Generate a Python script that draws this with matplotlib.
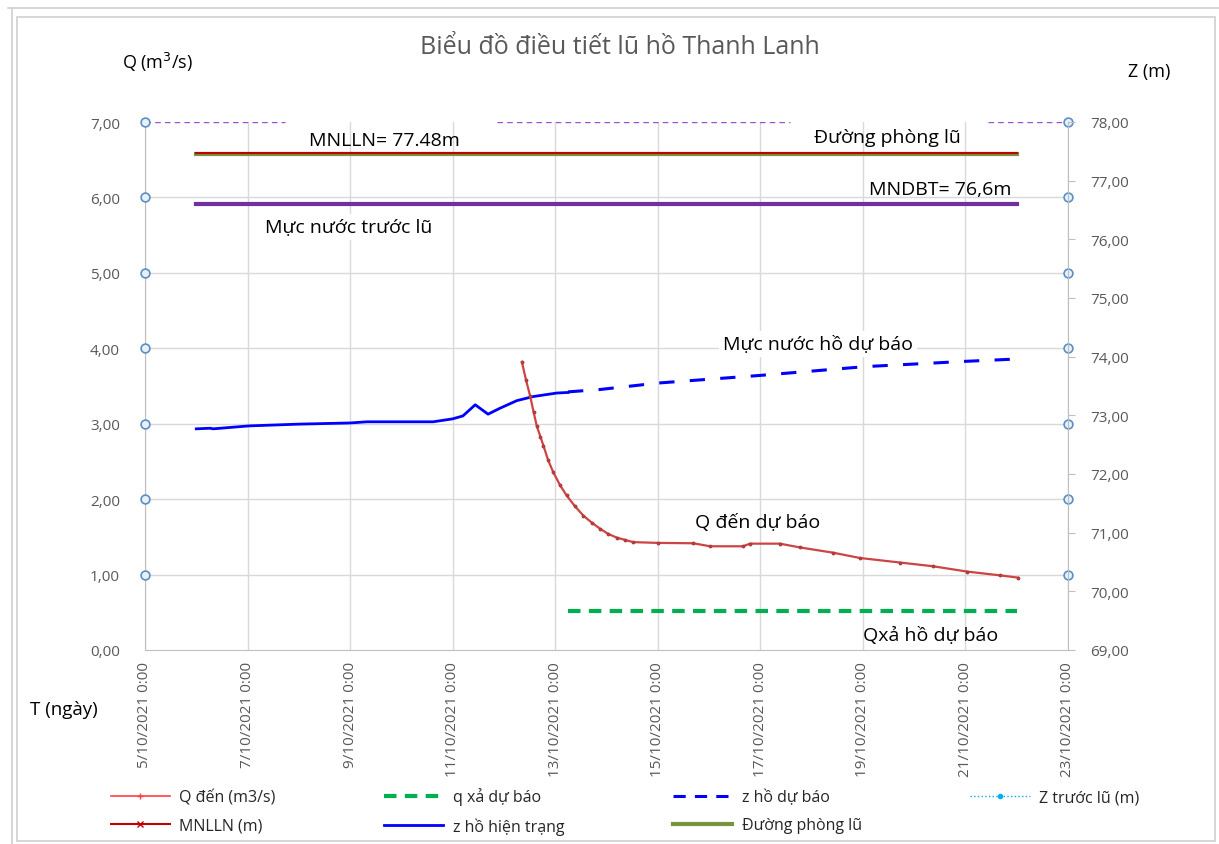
import numpy as np
import pandas as pd
import matplotlib
matplotlib.use("Agg")
from matplotlib import pyplot as plt
import matplotlib.dates as mdates
from matplotlib.lines import Line2D
from matplotlib.patches import Rectangle

plt.rcParams['font.family'] = ['Open Sans', 'DejaVu Sans']

# ---- data (time as days after 5/10/2021 0:00) ----
start = pd.Timestamp("2021-10-05 00:00")
x_start_day = 0
x_end_day = 18

# z hồ hiện trạng (m)
z_now_day = [1.0, 1.27, 1.33, 2.03, 3.0, 4.0, 4.33, 5.0, 5.62, 6.0, 6.2, 6.44,
             6.69, 6.92, 7.25, 7.57, 8.03, 8.25]
z_now = [72.77, 72.78, 72.77, 72.82, 72.85, 72.87, 72.89, 72.89, 72.89, 72.94,
         72.99, 73.18, 73.02, 73.12, 73.25, 73.32, 73.38, 73.39]

# z hồ dự báo (m)
z_fc_day = [8.25, 8.87, 10.0, 11.99, 14.04, 15.99, 17.0]
z_fc = [73.40, 73.44, 73.55, 73.68, 73.83, 73.92, 73.96]

# Q đến (m3/s)
q_in_day = [7.35, 7.43, 7.51, 7.58, 7.64, 7.71, 7.77, 7.86, 7.96, 8.09, 8.22,
            8.38, 8.55, 8.71, 8.87, 9.03, 9.20, 9.36, 9.52, 10.0, 10.69, 11.02,
            11.66, 11.80, 12.38, 12.77, 13.42, 13.94, 14.72, 15.37, 16.03,
            16.67, 17.02]
q_in = [3.82, 3.58, 3.37, 3.15, 2.97, 2.83, 2.71, 2.52, 2.36, 2.19, 2.05,
        1.91, 1.78, 1.69, 1.61, 1.54, 1.49, 1.46, 1.43, 1.42, 1.415, 1.375,
        1.375, 1.41, 1.41, 1.36, 1.29, 1.22, 1.16, 1.11, 1.04, 0.99, 0.96]

# q xả dự báo
q_out_day = [8.25, 17.0]
q_out = [0.52, 0.52]

# levels (m)
level_day = [1.0, 17.0]
mnlln = 77.48
phong_lu = 77.45
mndbt = 76.6

# dashed limit line at the top of the Q axis
top_q = 7.0
top_segments = [(0.0, 2.73), (6.86, 12.58), (16.44, 18.0)]
circle_q = [1, 2, 3, 4, 5, 6, 7]

q_ticks = [0, 1, 2, 3, 4, 5, 6, 7]
z_ticks = [69, 70, 71, 72, 73, 74, 75, 76, 77, 78]


def to_time(days):
    return start + pd.to_timedelta(np.asarray(days, dtype=float), unit="D")


def date_fmt(x, pos=None):
    d = mdates.num2date(x)
    return f"{d.day}/{d.month}/{d.year} {d.hour}:{d.minute:02d}"


gray = "#595959"
grid = "#d9d9d9"

fig = plt.figure(figsize=(12.19, 8.45), dpi=100)
ax = fig.add_axes([145 / 1219, 1 - 651 / 845, (1068 - 145) / 1219, (651 - 123) / 845])
az = ax.twinx()

# frame like a spreadsheet chart object
fig.patches.append(Rectangle((17 / 1219, 3 / 845), 1198 / 1219, 824 / 845,
                             transform=fig.transFigure, fill=False,
                             edgecolor="#d0d0d0", lw=1.2))
fig.add_artist(Line2D([8 / 1219, 1], [1 - 9 / 845, 1 - 9 / 845],
                      transform=fig.transFigure, color="#d0d0d0", lw=1.2))
fig.add_artist(Line2D([12 / 1219, 12 / 1219], [0, 1 - 9 / 845],
                      transform=fig.transFigure, color="#d0d0d0", lw=1.2))

x0, x1 = to_time([x_start_day, x_end_day])
ax.set_xlim(x0, x1)
ax.set_ylim(0, 7)
az.set_ylim(69, 78)

# grid
for q in q_ticks[1:-1]:
    ax.axhline(q, color=grid, lw=1, zorder=0)
ax.xaxis.set_major_locator(mdates.DayLocator(interval=2))
ax.xaxis.set_major_formatter(plt.FuncFormatter(date_fmt))
ax.grid(axis="x", color=grid, lw=1, zorder=0)
ax.set_axisbelow(True)

# top dashed line
for a, b in top_segments:
    ax.plot(to_time([a, b]), [top_q, top_q], color="#9b4fd6", lw=1, ls=(0, (4, 3)), zorder=2)

# Z series on right axis
az.plot(to_time(level_day), [phong_lu] * 2, color="#77933C", lw=3)
az.plot(to_time(level_day), [mnlln] * 2, color="#C00000", lw=1.5)
az.plot(to_time(level_day), [mndbt] * 2, color="#7030A0", lw=3)
az.plot(to_time(z_now_day), z_now, color="#0000FF", lw=2)
az.plot(to_time(z_fc_day), z_fc, color="#0000FF", lw=2.2, ls=(0, (5, 5)))

# Q series (left axis scale, drawn on the right axes to stay on top)
az.plot(to_time(q_in_day), np.array(q_in) * 9 / 7 + 69, color="#cc4444", lw=1.6,
        marker=".", ms=3.5, mec="#b03a3a")
az.plot(to_time(q_out_day), np.array(q_out) * 9 / 7 + 69, color="#00B050", lw=3,
        ls=(0, (3, 2)))

# circles at axis edges
for xd in [x_start_day, x_end_day]:
    ax.scatter(to_time([xd] * len(circle_q)), circle_q, s=40, facecolor="#e8f0f8",
               edgecolor="#5b8fc7", lw=1.2, zorder=5, clip_on=False)

# axes styling
ax.spines["top"].set_visible(False)
az.spines["top"].set_visible(False)
for sp in [ax.spines["left"], ax.spines["bottom"], az.spines["right"]]:
    sp.set_color("#bfbfbf")
az.spines["left"].set_visible(False)
az.spines["bottom"].set_visible(False)
ax.spines["right"].set_visible(False)

ax.set_yticks(q_ticks)
ax.set_yticklabels([f"{v:.2f}".replace(".", ",") for v in q_ticks])
az.set_yticks(z_ticks)
az.set_yticklabels([f"{v:.2f}".replace(".", ",") for v in z_ticks])
ax.tick_params(axis="y", length=0, pad=18, labelsize=11, labelcolor=gray)
az.tick_params(axis="y", length=5, color="#bfbfbf", pad=11, labelsize=11, labelcolor=gray)
ax.tick_params(axis="x", length=0, pad=8, labelsize=11, labelcolor=gray, rotation=90)

# titles and labels
fig.text(620 / 1219, 1 - 47 / 845, "Biểu đồ điều tiết lũ hồ Thanh Lanh",
         ha="center", va="center", fontsize=18, color=gray)
fig.text(122 / 1219, 1 - 62 / 845, "Q (m$^3$/s)", ha="left", va="center", fontsize=13)
fig.text(1128 / 1219, 1 - 72 / 845, "Z (m)", ha="left", va="center", fontsize=13)
fig.text(30 / 1219, 1 - 710 / 845, "T (ngày)", ha="left", va="center", fontsize=13.5)


def note(day, q, s, box=False):
    kw = dict(ha="center", va="center", fontsize=14, zorder=6)
    if box:
        kw["bbox"] = dict(facecolor="white", edgecolor="none", pad=3)
    ax.text(to_time([day])[0], q, s, **kw)


note(4.66, 6.76, "MNLLN= 77.48m")
note(14.47, 6.80, "Đường phòng lũ")
note(15.5, 6.11, "MNDBT= 76,6m")
note(3.98, 5.61, "Mực nước trước lũ", box=True)
note(13.12, 4.06, "Mực nước hồ dự báo", box=True)
note(11.95, 1.70, "Q đến dự báo")
note(15.33, 0.20, "Qxả hồ dự báo")

# legend
handles = [
    Line2D([], [], color="#ff4040", lw=1.2, marker="+", ms=4),
    Line2D([], [], color="#C00000", lw=1.5, marker="x", ms=4),
    Line2D([], [], color="#00B050", lw=3, ls=(0, (3, 2))),
    Line2D([], [], color="#0000FF", lw=2),
    Line2D([], [], color="#0000FF", lw=2.2, ls=(0, (4, 3))),
    Line2D([], [], color="#77933C", lw=3),
    Line2D([], [], color="#00B0F0", lw=1, ls=":", marker="o", ms=3),
]
labels = ["Q đến (m3/s)", "MNLLN (m)", "q xả dự báo", "z hồ hiện trạng",
          "z hồ dự báo", "Đường phòng lũ", "Z trước lũ (m)"]
fig.legend(handles, labels, loc="center", bbox_to_anchor=(625 / 1219, 1 - 812 / 845),
           ncol=4, frameon=False, fontsize=11.5, handlelength=3.7, columnspacing=6.8,
           handletextpad=0.6, labelspacing=0.75, labelcolor="#262626")

fig.savefig("out.png", dpi=100)
